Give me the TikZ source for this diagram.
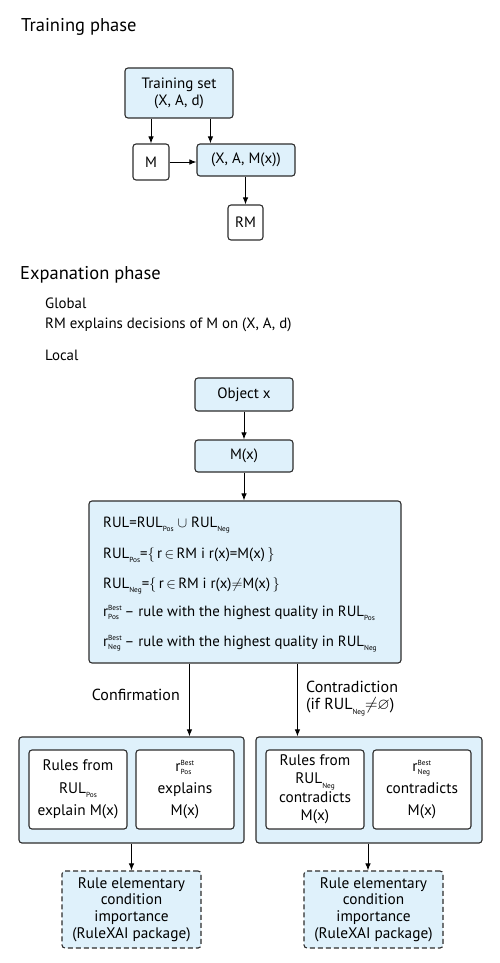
\documentclass[tikz,border=0pt]{standalone}
\usepackage{amssymb}
\usepackage{fontspec}
\setmainfont{PT Sans}
\usetikzlibrary{arrows.meta,calc}
\definecolor{boxfill}{RGB}{223,241,251}
\definecolor{edge}{RGB}{45,45,45}
\newcommand\subt[1]{\raisebox{-0.6ex}{\fontsize{7.3}{7.3}\selectfont #1}}
\newcommand\tinyt[1]{\mbox{\fontsize{7.3}{7.3}\selectfont #1}}
\newcommand\rbest[1]{r$^{\tinyt{Best}}_{\tinyt{#1}}$}
\tikzset{
  box/.style={draw=edge, line width=1.1pt, rounded corners=3pt, fill=boxfill, align=center, inner sep=1pt, font=\fontsize{15}{17}\selectfont},
  wbox/.style={box, fill=white},
  dbox/.style={box, dash pattern=on 5pt off 3pt, font=\fontsize{15.3}{16.7}\selectfont},
  arr/.style={draw=black, line width=1pt, -{Latex[length=7pt,width=5.5pt]}},
  head/.style={anchor=west, inner sep=0pt, font=\fontsize{18.5}{21}\selectfont},
  txt/.style={anchor=west, inner sep=0pt, font=\fontsize{14.9}{17}\selectfont},
  btxt/.style={anchor=base west, inner sep=0pt, font=\fontsize{14.8}{17}\selectfont},
  lab/.style={inner sep=0pt, font=\fontsize{16}{18}\selectfont},
}
\begin{document}
\begin{tikzpicture}[x=1pt,y=-1pt]
\useasboundingbox[fill=white] (0,0) rectangle (499,963);
% Training phase
\node[head] (h1) at (21,27) {Training phase};
\node[box, minimum width=108pt, minimum height=50pt] (ts) at (179,93) {Training set\\(X, A, d)};
\node[wbox, minimum width=36pt, minimum height=36pt] (m) at (151,162) {M};
\node[box, minimum width=98pt, minimum height=32pt] (xam) at (246,160) {(X, A, M(x))};
\node[wbox, minimum width=35pt, minimum height=35pt] (rm) at (245.5,222.5) {RM};
\draw[arr] (ts.south -| m.north) -- (m.north);
\coordinate (c0) at ([xshift=14pt]xam.north west);
\draw[arr] (c0 |- ts.south) -- (c0);
\draw[arr] (m.east) -- (m.east -| xam.west);
\draw[arr] (xam.south -| rm.north) -- (rm.north);
% Explanation phase
\node[head] (h2) at (20,275) {Expanation phase};
\node[txt] (gl) at (45,303) {Global};
\node[txt] (gl2) at (45,325) {RM explains decisions of M on (X, A, d)};
\node[txt] (loc) at (45,355) {Local};
\node[box, minimum width=98pt, minimum height=33pt] (obj) at (244,394.5) {Object x};
\node[box, minimum width=98pt, minimum height=32pt] (mx) at (244,456) {M(x)};
\draw[arr] (obj.south) -- (mx.north);
\node[box, minimum width=312pt, minimum height=162pt] (big) at (245,582) {};
\draw[arr] (mx.south) -- (mx.south |- big.north);
\node[btxt] (l1) at (103,527) {RUL=RUL\subt{Pos} $\cup$ RUL\subt{Neg}};
\node[btxt] (l2) at (103,558) {RUL\subt{Pos}=$\{\,$r$\,\in\,$RM i r(x)=M(x)$\,\}$};
\node[btxt] (l3) at (103,588) {RUL\subt{Neg}=$\{\,$r$\,\in\,$RM i r(x)${\neq}$M(x)$\,\}$};
\node[btxt] (l4) at (103,616) {\rbest{Pos}\,-- rule with the highest quality in RUL\subt{Pos}};
\node[btxt] (l5) at (103,646) {\rbest{Neg}\,-- rule with the highest quality in RUL\subt{Neg}};
% lower boxes
\node[box, minimum width=225pt, minimum height=106pt] (lo) at (131.5,790) {};
\node[box, minimum width=226pt, minimum height=106pt] (ro) at (369,790) {};
\node[wbox, minimum width=98pt, minimum height=79pt, font=\fontsize{15.3}{22.5}\selectfont] (li1) at (78,789.5) {Rules from\\RUL\subt{Pos}\\explain M(x)};
\node[wbox, minimum width=98pt, minimum height=79pt, font=\fontsize{15.3}{22}\selectfont] (li2) at (185,789.5) {\rbest{Pos}\\explains\\M(x)};
\node[wbox, minimum width=98pt, minimum height=79pt, font=\fontsize{15.3}{18.5}\selectfont] (ri1) at (315,789.5) {Rules from\\RUL\subt{Neg}\\contradicts\\M(x)};
\node[wbox, minimum width=98pt, minimum height=79pt, font=\fontsize{15.3}{22}\selectfont] (ri2) at (422,789.5) {\rbest{Neg}\\contradicts\\M(x)};
\coordinate (c1) at ([xshift=101pt]big.south west);
\coordinate (c2) at ([xshift=209pt]big.south west);
\draw[arr] (c1) -- (c1 |- lo.north);
\draw[arr] (c2) -- (c2 |- ro.north);
\node[lab, anchor=east] (conf) at (180,695) {Confirmation};
\node[lab, anchor=west] (contr) at (306,687) {Contradiction};
\node[lab, anchor=west] (contr2) at (306,707) {(if RUL\subt{Neg}${\neq}{\varnothing}$)};
\node[dbox, minimum width=139pt, minimum height=77pt] (ld) at (131.5,909.5) {Rule elementary\\condition\\importance\\(RuleXAI package)};
\node[dbox, minimum width=139pt, minimum height=77pt] (rd) at (373.5,909.5) {Rule elementary\\condition\\importance\\(RuleXAI package)};
\draw[arr] (lo.south) -- (lo.south |- ld.north);
\draw[arr] ([xshift=-1pt]ro.south) -- ([xshift=-1pt]ro.south |- rd.north);
\end{tikzpicture}
\end{document}
